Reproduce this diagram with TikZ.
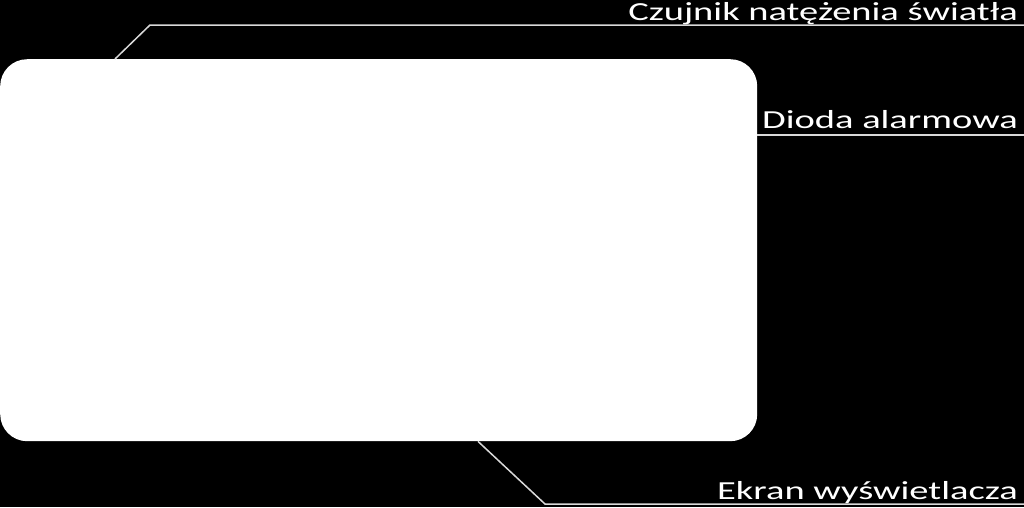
\documentclass[tikz,border=0pt]{standalone}
\usepackage{fontspec}
\setmainfont{Carlito}
\newfontfamily\calloutfont[FakeStretch=1.48]{Carlito}
\usetikzlibrary{positioning,calc}
\tikzstyle{board} = [rectangle, fill=white, rounded corners=27pt, minimum width=757pt, minimum height=382pt, inner sep=0pt]
\tikzstyle{labeltext} = [text=white, font=\calloutfont\fontsize{26}{30}\selectfont, inner sep=0pt, anchor=base east]
\tikzstyle{leader} = [draw=white!85!black, line width=1.5pt]

\begin{document}
\begin{tikzpicture}[x=1pt, y=-1pt]
    \fill[black] (0,0) rectangle (1024,507);
    \useasboundingbox (0,0) rectangle (1024,507);
    \node[board, anchor=north west] (board) at (0,59) {};

    \node[labeltext] (sensor) at (1018,20.5) {Czujnik natężenia światła};
    \node[labeltext] (diode) at (1018,128.5) {Dioda alarmowa};
    \node[labeltext] (screen) at (1018,499) {Ekran wyświetlacza};

    \coordinate (sensor bend) at (150,25);
    \coordinate (sensor end) at (1024,25);
    \coordinate (diode end) at (1024,135);
    \coordinate (screen bend) at (545,504);
    \coordinate (screen end) at (1024,504);

    \draw[leader] ($(board.north west)+(115,0)$) -- (sensor bend) -- (sensor end);
    \draw[leader] (board.east |- diode end) -- (diode end);
    \draw[leader] ($(board.south west)+(478,0)$) -- (screen bend) -- (screen end);
\end{tikzpicture}
\end{document}
